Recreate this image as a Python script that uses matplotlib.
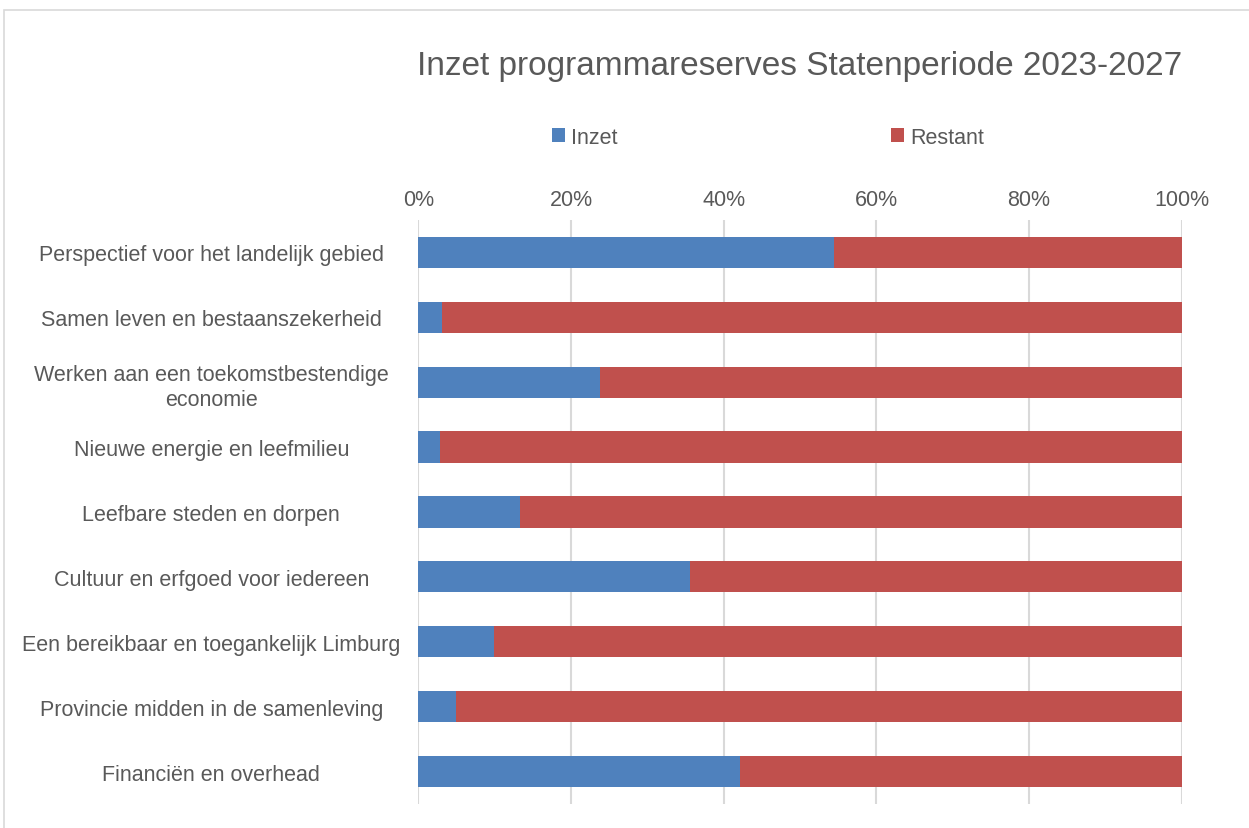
import numpy as np
import matplotlib.pyplot as plt
from matplotlib.patches import Rectangle
from matplotlib.ticker import PercentFormatter

# data (share of reserve used, in %)
categories = [
    'Perspectief voor het landelijk gebied',
    'Samen leven en bestaanszekerheid',
    'Werken aan een toekomstbestendige\neconomie',
    'Nieuwe energie en leefmilieu',
    'Leefbare steden en dorpen',
    'Cultuur en erfgoed voor iedereen',
    'Een bereikbaar en toegankelijk Limburg',
    'Provincie midden in de samenleving',
    'Financiën en overhead',
]
inzet = [54.4, 3.1, 23.8, 2.8, 13.3, 35.6, 9.9, 4.9, 42.2]
restant = [100 - v for v in inzet]
series_names = ['Inzet', 'Restant']
x_ticks = [0, 20, 40, 60, 80, 100]

blue = '#4F81BD'
red = '#C0504D'
text_color = '#595959'
fs = 15.5

plt.rcParams['font.family'] = ['Liberation Sans', 'DejaVu Sans']

fig = plt.figure(figsize=(12.49, 8.29), dpi=100)
ax = fig.add_axes([0.3349, 0.029, 0.6113, 0.7045])

# outer frame like the original chart area
fig.patches.append(Rectangle((4 / 1249, -0.01), 1.0, 1 - 11 / 829 + 0.01,
                             transform=fig.transFigure, fill=False,
                             edgecolor='#D9D9D9', linewidth=1.2))

y = np.arange(len(categories))
h = 0.48
ax.barh(y, inzet, height=h, color=blue, label=series_names[0], zorder=3)
ax.barh(y, restant, left=inzet, height=h, color=red, label=series_names[1], zorder=3)

ax.set_xlim(0, 100)
ax.set_ylim(len(categories) - 0.5, -0.5)
ax.set_xticks(x_ticks)
ax.xaxis.set_major_formatter(PercentFormatter(decimals=0))
ax.xaxis.tick_top()
ax.tick_params(axis='x', length=0, pad=7, labelsize=fs, labelcolor=text_color)
ax.grid(axis='x', color='#D9D9D9', linewidth=1.5, zorder=0)

ax.set_yticks(y)
ax.set_yticklabels(categories, fontsize=fs, color=text_color, ha='center',
                   linespacing=1.25)
ax.tick_params(axis='y', length=0, pad=149)

for s in ax.spines.values():
    s.set_visible(False)

fig.text(0.640, 1 - 66 / 829, 'Inzet programmareserves Statenperiode 2023-2027',
         ha='center', va='center', fontsize=24, color=text_color)

leg = fig.legend(loc='center', bbox_to_anchor=(0.615, 1 - 138 / 829), ncol=2,
                 frameon=False, fontsize=fs, handlelength=0.6, handleheight=0.6,
                 handletextpad=0.3, columnspacing=12.7)
for t in leg.get_texts():
    t.set_color(text_color)

fig.savefig('out.png', dpi=100)
